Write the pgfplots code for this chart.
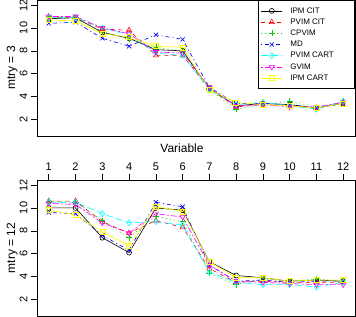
\documentclass[border=0pt]{standalone}
\usepackage{pgfplots}
\pgfplotsset{compat=1.18}
\usepackage{pgfplotstable}
\usepackage{fontspec}
\setmainfont{Liberation Sans}
\definecolor{rgreen}{RGB}{0,205,0}
\definecolor{rcyan}{RGB}{0,255,255}
\definecolor{rmag}{RGB}{255,0,255}
\definecolor{ryel}{RGB}{255,255,0}

\pgfplotstableread{
x  ipmcit pvimcit cpvim md   pvimcart gvim ipmcart
1  10.8   10.9    11.0  10.4 10.9     11.0 10.7
2  10.9   10.9    10.8  10.5 10.9     11.0 10.6
3  9.6    9.9     9.7   9.1  10.0     10.0 9.5
4  9.1    9.8     9.0   8.4  9.4      9.5  9.2
5  8.1    7.6     8.3   9.4  7.8      7.9  8.4
6  8.0    7.6     8.0   9.0  7.6      7.8  8.3
7  4.7    4.7     4.6   4.8  4.6      4.8  4.6
8  3.2    3.1     2.9   3.4  3.3      3.2  3.5
9  3.4    3.3     3.3   3.4  3.5      3.3  3.3
10 3.3    3.2     3.6   3.3  3.2      3.1  3.2
11 3.0    3.0     3.0   3.0  2.9      3.1  3.0
12 3.4    3.5     3.4   3.4  3.6      3.5  3.4
}\topdata

\pgfplotstableread{
x  ipmcit pvimcit cpvim md   pvimcart gvim ipmcart
1  10.0   10.6    10.6  9.6  10.5     10.4 9.8
2  10.0   10.6    10.5  9.5  10.5     10.3 9.4
3  7.4    8.8     8.9   7.6  9.5      8.7  7.9
4  6.1    7.8     7.4   6.3  8.7      7.8  6.7
5  10.0   8.9     9.3   10.5 8.8      9.5  10.1
6  9.8    8.3     8.8   10.1 8.5      9.2  9.7
7  5.3    4.7     4.3   5.0  4.4      5.0  5.3
8  4.1    3.5     3.3   3.6  3.5      3.6  3.9
9  3.9    3.6     3.8   3.7  3.3      3.5  3.9
10 3.6    3.5     3.6   3.5  3.3      3.4  3.6
11 3.7    3.5     3.8   3.6  3.1      3.3  3.7
12 3.6    3.5     3.6   3.6  3.5      3.3  3.7
}\botdata

\pgfplotsset{
  s1/.style={black, line width=0.6pt, solid, mark=o, mark size=2.5pt, mark options={solid}},
  s2/.style={red, line width=0.6pt, dash pattern=on 4pt off 4pt, mark=triangle, mark size=3pt, mark options={solid}},
  s3/.style={rgreen, line width=0.6pt, dash pattern=on 1pt off 3pt, mark=+, mark size=3pt, mark options={solid}},
  s4/.style={blue, line width=0.6pt, dash pattern=on 1pt off 3pt on 4pt off 3pt, mark=x, mark size=3pt, mark options={solid}},
  s5/.style={rcyan, line width=0.6pt, dash pattern=on 7pt off 3pt, mark=diamond, mark size=3pt, mark options={solid}},
  s6/.style={rmag, line width=0.6pt, dash pattern=on 2pt off 2pt on 6pt off 2pt, mark=triangle, mark size=3pt, mark options={solid, rotate=180}},
  s7/.style={ryel, line width=0.6pt, solid, mark=square, mark size=2.5pt, mark options={solid}},
  panel/.style={
    scale only axis, width=318pt, height=136pt,
    xmin=0.56, xmax=12.44, ymin=0.56, ymax=12.44,
    ytick={2,4,...,12}, ytick pos=left,
    axis line style={black, line width=0.8pt},
    tick style={black, line width=0.6pt},
    tick align=outside, major tick length=6pt,
    /pgf/number format/assume math mode=true,
    yticklabel style={rotate=90, anchor=south, font=\fontsize{11}{13}\selectfont},
    xticklabel style={font=\fontsize{11}{13}\selectfont},
    ylabel style={at={(axis description cs:-0.078,0.5)}, anchor=center, rotate=0, font=\fontsize{12}{14}\selectfont},
    clip=false,
  },
}

\begin{document}
\begin{tikzpicture}[x=1pt,y=1pt]
\path[use as bounding box] (0,0) rectangle (356,316);
\begin{axis}[panel, at={(37pt,180pt)}, anchor=south west,
  xtick=\empty, ylabel={mtry = 3},
  legend style={at={(1,1)}, anchor=north east, draw=black, line width=0.6pt, fill=white,
    font=\fontsize{8}{9}\selectfont, inner xsep=2.5pt, inner ysep=5pt, row sep=0pt,
    nodes={text height=6pt, text depth=1.6pt, inner sep=1.8pt}},
  legend cell align=left,
  legend image code/.code={\draw[mark repeat=2, mark phase=2, #1] plot coordinates {(0pt,0pt) (10.5pt,0pt) (21pt,0pt)}; \path (27pt,0pt);},
]
\addplot[s1] table[x=x, y=ipmcit] {\topdata};
\addlegendentry{\makebox[60pt][l]{IPM CIT}}
\addplot[s2] table[x=x, y=pvimcit] {\topdata};
\addlegendentry{PVIM CIT}
\addplot[s3] table[x=x, y=cpvim] {\topdata};
\addlegendentry{CPVIM}
\addplot[s4] table[x=x, y=md] {\topdata};
\addlegendentry{MD}
\addplot[s5] table[x=x, y=pvimcart] {\topdata};
\addlegendentry{PVIM CART}
\addplot[s6] table[x=x, y=gvim] {\topdata};
\addlegendentry{GVIM}
\addplot[s7] table[x=x, y=ipmcart] {\topdata};
\addlegendentry{IPM CART}
\end{axis}

\begin{axis}[panel, at={(37pt,0pt)}, anchor=south west,
  xtick={1,...,12}, xtick pos=right, xticklabel pos=right,
  ylabel={mtry = 12},
]
\addplot[s1] table[x=x, y=ipmcit] {\botdata};
\addplot[s2] table[x=x, y=pvimcit] {\botdata};
\addplot[s3] table[x=x, y=cpvim] {\botdata};
\addplot[s4] table[x=x, y=md] {\botdata};
\addplot[s5] table[x=x, y=pvimcart] {\botdata};
\addplot[s6] table[x=x, y=gvim] {\botdata};
\addplot[s7] table[x=x, y=ipmcart] {\botdata};
\end{axis}
\node[font=\fontsize{12}{14}\selectfont] at (182,168) {Variable};
\end{tikzpicture}
\end{document}
